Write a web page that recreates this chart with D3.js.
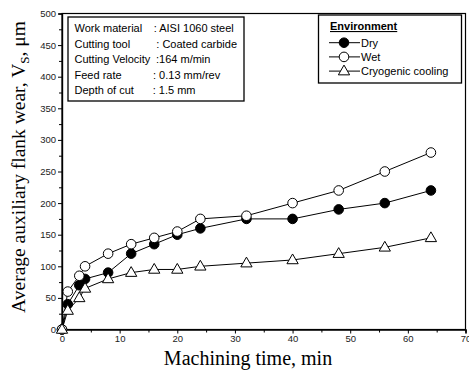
<!DOCTYPE html>
<html>
<head>
<meta charset="utf-8">
<script src="https://cdn.jsdelivr.net/npm/d3@7/dist/d3.min.js"></script>
<style>
  body { margin: 0; background: #fff; }
  svg { display: block; }
</style>
</head>
<body>
<svg id="chart" width="469" height="371"></svg>
<script>
var times = [0, 1, 3, 4, 8, 12, 16, 20, 24, 32, 40, 48, 56, 64];
var dryWear = [0, 40, 70, 80, 90, 120, 135, 150, 160, 175, 175, 190, 200, 220];
var wetWear = [0, 60, 85, 100, 120, 135, 145, 155, 175, 180, 200, 220, 250, 280];
var cryoWear = [0, 30, 50, 65, 80, 90, 95, 95, 100, 105, 110, 120, 130, 145];
var seriesNames = ["Dry", "Wet", "Cryogenic cooling"];
var infoLabels = ["Work material", "Cutting tool", "Cutting Velocity", "Feed rate", "Depth of cut"];
var infoValues = [": AISI 1060 steel", ": Coated carbide", ":164 m/min", ": 0.13 mm/rev", ": 1.5 mm"];
var xTicks = [0, 10, 20, 30, 40, 50, 60, 70];
var yTicks = [0, 50, 100, 150, 200, 250, 300, 350, 400, 450, 500];

var svg = d3.select("#chart");
var margin = {left: 62, right: 3.5, top: 13.5, bottom: 41.5};
var W = 469, H = 371;

var x = d3.scaleLinear().domain([0, 70]).range([margin.left, W - margin.right]);
var y = d3.scaleLinear().domain([0, 500]).range([H - margin.bottom, margin.top]);

var series = [
    {name: seriesNames[0], values: dryWear, shape: "circle", fill: "black"},
    {name: seriesNames[1], values: wetWear, shape: "circle", fill: "white"},
    {name: seriesNames[2], values: cryoWear, shape: "triangle", fill: "white"}
];

// frame
svg.append("rect")
    .attr("x", x(0)).attr("y", y(500))
    .attr("width", x(70) - x(0)).attr("height", y(0) - y(500))
    .attr("fill", "none").attr("stroke", "black").attr("stroke-width", 1.2);

// axes
svg.append("g")
    .attr("transform", "translate(0," + y(0) + ")")
    .call(d3.axisBottom(x).tickValues(xTicks).tickSize(4).tickPadding(2));
svg.append("g")
    .attr("transform", "translate(0," + y(0) + ")")
    .call(d3.axisBottom(x).tickValues(d3.range(5, 70, 10)).tickSize(3).tickFormat(""));
svg.append("g")
    .attr("transform", "translate(" + x(0) + ",0)")
    .call(d3.axisLeft(y).tickValues(yTicks).tickSize(4).tickPadding(2));
svg.append("g")
    .attr("transform", "translate(" + x(0) + ",0)")
    .call(d3.axisLeft(y).tickValues(d3.range(25, 500, 50)).tickSize(3).tickFormat(""));

svg.selectAll(".domain").attr("stroke", "black").attr("stroke-width", 1.2);
svg.selectAll(".tick line").attr("stroke", "black");
svg.selectAll(".tick text")
    .attr("font-family", "Liberation Sans, Arial, sans-serif")
    .attr("font-size", 9.5)
    .attr("fill", "#222");

// axis titles
svg.append("text")
    .attr("x", 248).attr("y", 365)
    .attr("text-anchor", "middle")
    .attr("font-family", "Liberation Serif, Times New Roman, serif")
    .attr("font-size", 20)
    .text("Machining time, min");

var yTitle = svg.append("text")
    .attr("transform", "translate(25,167) rotate(-90)")
    .attr("text-anchor", "middle")
    .attr("font-family", "Liberation Serif, Times New Roman, serif")
    .attr("font-size", 19.5);
yTitle.append("tspan").text("Average auxiliary flank wear, V");
yTitle.append("tspan").attr("font-size", 13).attr("dy", 4).text("S");
yTitle.append("tspan").attr("dy", -4).text(", \u03bcm");

// lines and markers
var line = d3.line()
    .x(function(d, i){ return x(times[i]); })
    .y(function(d){ return y(d); });

var triangle = d3.symbol().type(d3.symbolTriangle).size(55);

function drawMarker(g, s, cx, cy) {
    if (s.shape === "circle") {
        g.append("circle")
            .attr("cx", cx).attr("cy", cy).attr("r", 4.8)
            .attr("fill", s.fill).attr("stroke", "black").attr("stroke-width", 1);
    } else {
        g.append("path")
            .attr("d", triangle)
            .attr("transform", "translate(" + cx + "," + (cy + 0.5) + ")")
            .attr("fill", s.fill).attr("stroke", "black").attr("stroke-width", 1);
    }
}

series.forEach(function(s){
    svg.append("path")
        .datum(s.values)
        .attr("d", line)
        .attr("fill", "none")
        .attr("stroke", "black")
        .attr("stroke-width", 1);
});
series.forEach(function(s){
    var g = svg.append("g");
    s.values.forEach(function(v, i){
        drawMarker(g, s, x(times[i]), y(v));
    });
});

// info box
var info = svg.append("g");
info.append("rect")
    .attr("x", 68).attr("y", 17).attr("width", 176).attr("height", 84)
    .attr("fill", "white").attr("stroke", "black").attr("stroke-width", 1.3);
var colonX = [153.7, 156.3, 156, 153, 152.7];
infoLabels.forEach(function(lbl, i){
    info.append("text")
        .attr("x", 74.5).attr("y", 32.3 + i * 15.4)
        .attr("font-family", "Liberation Sans, Arial, sans-serif")
        .attr("font-size", 11)
        .text(lbl);
    info.append("text")
        .attr("x", colonX[i]).attr("y", 32.3 + i * 15.4)
        .attr("font-family", "Liberation Sans, Arial, sans-serif")
        .attr("font-size", 11)
        .text(infoValues[i]);
});

// legend
var legend = svg.append("g");
legend.append("rect")
    .attr("x", 318.5).attr("y", 15).attr("width", 143).attr("height", 68)
    .attr("fill", "white").attr("stroke", "black").attr("stroke-width", 1.3);
legend.append("text")
    .attr("x", 330).attr("y", 30)
    .attr("font-family", "Liberation Sans, Arial, sans-serif")
    .attr("font-size", 11)
    .attr("font-weight", "bold")
    .attr("text-decoration", "underline")
    .text("Environment");
series.forEach(function(s, i){
    var cy = 42.7 + i * 14.2;
    legend.append("line")
        .attr("x1", 329).attr("x2", 360)
        .attr("y1", cy).attr("y2", cy)
        .attr("stroke", "black").attr("stroke-width", 1);
    drawMarker(legend, s, 344, cy);
    legend.append("text")
        .attr("x", 361).attr("y", cy + 4)
        .attr("font-family", "Liberation Sans, Arial, sans-serif")
        .attr("font-size", 11)
        .text(s.name);
});
</script>
</body>
</html>
